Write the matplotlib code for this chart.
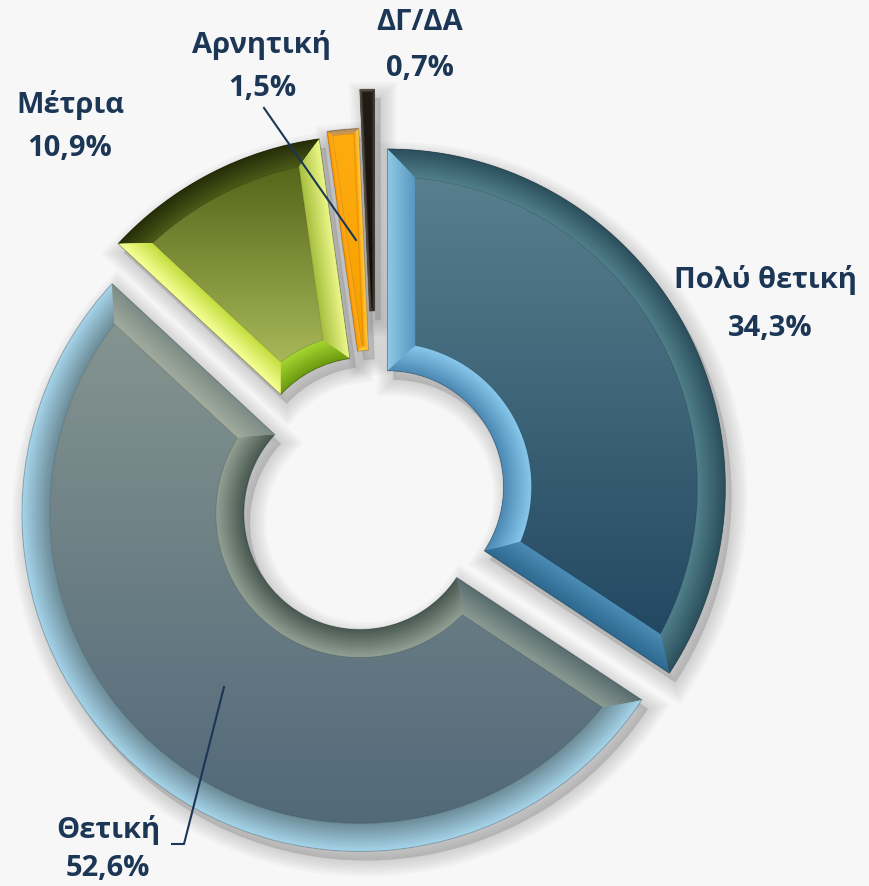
import numpy as np
import matplotlib
matplotlib.use("Agg")
import matplotlib.pyplot as plt
from matplotlib.patches import Polygon, Wedge
from matplotlib.colors import to_rgb

# ---- data ----
categories = ['Πολύ θετική', 'Θετική', 'Μέτρια', 'Αρνητική', 'ΔΓ/ΔΑ']
values = [34.3, 52.6, 10.9, 1.5, 0.7]
pct_labels = ['34,3%', '52,6%', '10,9%', '1,5%', '0,7%']

# ---- style ----
explode = [13, 26, 22, 27, 66]   # offsets in data units (pixels)
bevels = [28, 28, 24, 5, 3]
# each strip: (colour at wedge edge, colour next to the face)
styles = [
    dict(face=('#587f8d', '#234862'), outer=('#2c505e', '#4f7d88'), inner=('#4d8ab4', '#86c6ea'),
         s1=('#2e6a90', '#4a8ab4'), s2=('#8cc8e4', '#5a98c0')),
    dict(face=('#84948f', '#52697a'), outer=('#a4d2e8', '#6e8e9a'), inner=('#4b5a52', '#909e92'),
         s1=('#7c8c86', '#a2aa9c'), s2=('#5a6e70', '#8a9a92')),
    dict(face=('#55651a', '#a8b858'), outer=('#262e08', '#4a5818'), inner=('#6c9c10', '#a4d430'),
         s1=('#eaf688', '#a8c040'), s2=('#f6ff96', '#c4de40')),
    dict(face=('#ffac10', '#f5a000'), outer=('#b08a60', '#d8a050'), inner=('#ffd040', '#ffb020'),
         s1=('#ffd050', '#ffa000'), s2=('#ff9800', '#ffb020')),
    dict(face=('#221c16', '#0c0a08'), outer=('#6a5e50', '#3a322a'), inner=('#4a4038', '#2a241e'),
         s1=('#4a4036', '#2a241e'), s2=('#6a5e50', '#2a241e')),
]
label_color = '#1c3656'
font = ['Open Sans', 'DejaVu Sans']

W, H = 869, 886
fig = plt.figure(figsize=(W / 100, H / 100), dpi=100)
fig.patch.set_facecolor('#f7f7f7')
ax = fig.add_axes([0, 0, 1, 1])
ax.set_facecolor('#f7f7f7')

R = 338
RING = 222
wedges, _ = ax.pie(values, radius=R, center=(376, H - 493), startangle=90,
                   counterclock=False, explode=explode,
                   wedgeprops=dict(width=RING, linewidth=0), frame=True)
ax.set_xlim(0, W)
ax.set_ylim(0, H)
ax.axis('off')


def P(c, rho, ang):
    a = np.deg2rad(ang)
    return np.array([c[0] + rho * np.cos(a), c[1] + rho * np.sin(a)])


def arc(c, rho, a1, a2, n=90):
    t = np.deg2rad(np.linspace(a1, a2, n))
    return np.column_stack([c[0] + rho * np.cos(t), c[1] + rho * np.sin(t)])


def mix(c1, c2, f):
    a = np.array(to_rgb(c1))
    b = np.array(to_rgb(c2))
    return tuple(a * (1 - f) + b * f)


def offs(d, Ro, ri, t1, t2):
    ao = np.rad2deg(np.arcsin(min(d / (Ro - d), 0.99)))
    ai = np.rad2deg(np.arcsin(min(d / (ri + d), 0.99)))
    half = (t2 - t1) / 2 - 0.1
    return min(ao, half), min(ai, half)


NS = 14
for w, st, b in zip(wedges, styles, bevels):
    c = np.array(w.center)
    Ro = w.r
    ri = w.r - w.width
    t1, t2 = w.theta1, w.theta2
    w.set_facecolor(mix(st['outer'][0], st['outer'][1], 0.5))
    w.set_zorder(3)

    # soft drop shadow
    for k in range(7):
        sh = Wedge((c[0] + 6, c[1] - 9), Ro, t1, t2, width=w.width,
                   facecolor='#707070', edgecolor='#707070',
                   linewidth=2 + k * 3.5, alpha=0.045, zorder=1)
        ax.add_patch(sh)

    # graded bevel strips: nested trapezoids from offset d_k to the face
    aob, aib = offs(b, Ro, ri, t1, t2)
    ds = np.linspace(0, b, NS + 1)[:-1]
    for k, da in enumerate(ds):
        f = k / (NS - 1)
        aoa, aia = offs(da, Ro, ri, t1, t2)
        outer = np.vstack([arc(c, Ro - da, t1 + aoa, t2 - aoa), arc(c, Ro - b, t2 - aob, t1 + aob)])
        inner = np.vstack([arc(c, ri + b, t1 + aib, t2 - aib), arc(c, ri + da, t2 - aia, t1 + aia)])
        side1 = np.array([P(c, Ro - da, t1 + aoa), P(c, Ro - b, t1 + aob),
                          P(c, ri + b, t1 + aib), P(c, ri + da, t1 + aia)])
        side2 = np.array([P(c, Ro - da, t2 - aoa), P(c, Ro - b, t2 - aob),
                          P(c, ri + b, t2 - aib), P(c, ri + da, t2 - aia)])
        for pts, key in [(outer, 'outer'), (inner, 'inner'), (side1, 's1'), (side2, 's2')]:
            col = mix(st[key][0], st[key][1], f)
            ax.add_patch(Polygon(pts, closed=True, facecolor=col, edgecolor='none',
                                 linewidth=0, zorder=4))

    face = np.vstack([arc(c, Ro - b, t1 + aob, t2 - aob), arc(c, ri + b, t2 - aib, t1 + aib)])
    fp = Polygon(face, closed=True, facecolor='none', edgecolor='none', zorder=5)
    ax.add_patch(fp)
    x0, y0 = face.min(axis=0)
    x1, y1 = face.max(axis=0)
    ctop = np.array(to_rgb(st['face'][0]))
    cbot = np.array(to_rgb(st['face'][1]))
    tt = np.linspace(0, 1, 128)[:, None]
    grad = (cbot[None, :] * (1 - tt) + ctop[None, :] * tt)[:, None, :]
    im = ax.imshow(grad, extent=(x0 - 1, x1 + 1, y0 - 1, y1 + 1), origin='lower',
                   aspect='auto', zorder=5, interpolation='bilinear')
    im.set_clip_path(fp)
    ax.add_patch(Polygon(face, closed=True, facecolor='none', edgecolor='#00000018',
                         linewidth=0.8, zorder=6))

    ax.add_patch(Wedge(tuple(c), Ro, t1, t2, width=w.width, facecolor='none',
                       edgecolor='#00000030', linewidth=0.8, zorder=6))

ax.set_xlim(0, W)
ax.set_ylim(0, H)

# ---- labels ----
label_pos = [(766, 280), (108, 830), (70, 105), (262, 45), (420, 22)]
pct_pos = [(770, 328), (108, 868), (70, 148), (262, 88), (420, 68)]
for name, pct, (lx, ly), (px, py) in zip(categories, pct_labels, label_pos, pct_pos):
    ax.text(lx, H - ly, name, ha='center', va='center', fontsize=21,
            fontweight='bold', color=label_color, family=font, zorder=10)
    ax.text(px, H - py, pct, ha='center', va='center', fontsize=21,
            fontweight='bold', color=label_color, family=font, zorder=10)

ax.plot([264, 356], [H - 108, H - 240], color=label_color, lw=1.5, zorder=9)
ax.plot([172, 184, 224], [H - 844, H - 844, H - 687], color=label_color, lw=1.5, zorder=9)

fig.savefig('out.png', dpi=100, facecolor=fig.get_facecolor())
